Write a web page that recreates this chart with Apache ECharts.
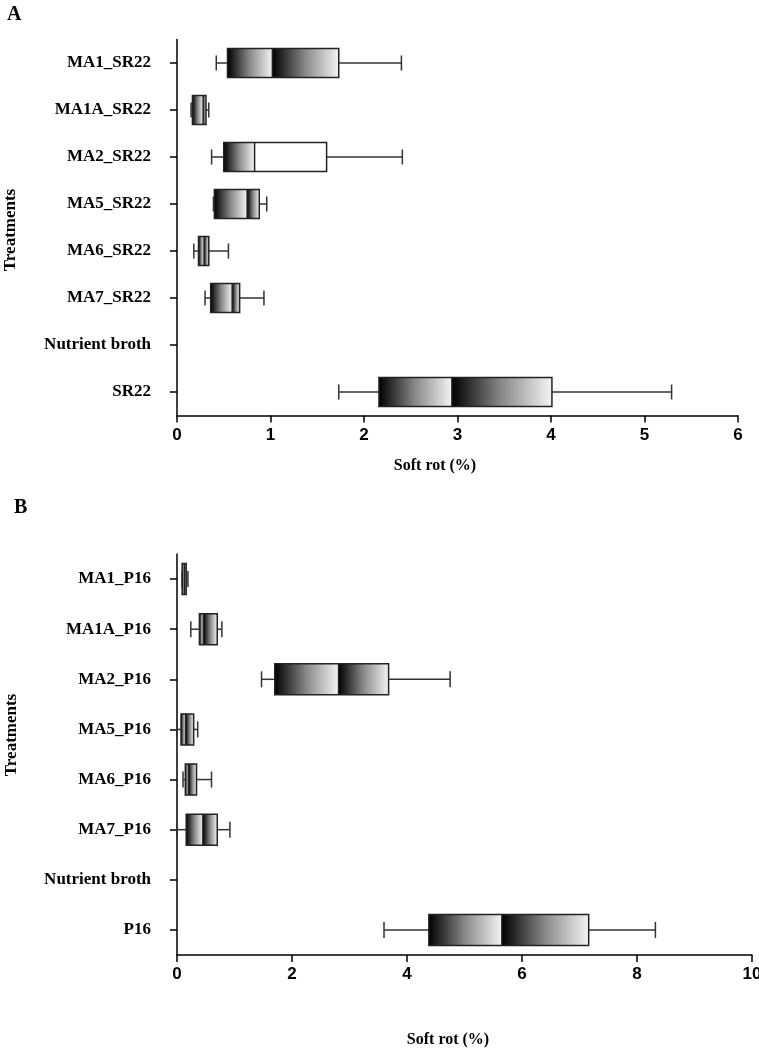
<!DOCTYPE html>
<html>
<head>
<meta charset="utf-8">
<script src="https://cdn.jsdelivr.net/npm/echarts@6/dist/echarts.min.js"></script>
<style>
html,body{margin:0;padding:0;background:#fff;}
#chart{width:759px;height:1050px;}
</style>
</head>
<body>
<div id="chart"></div>
<script>
// ---- Panel A data ----
const categoriesA = ['MA1_SR22','MA1A_SR22','MA2_SR22','MA5_SR22','MA6_SR22','MA7_SR22','Nutrient broth','SR22'];
const lowA  = [0.42, 0.15, 0.37, 0.39, 0.18, 0.30, null, 1.73];
const q1A   = [0.54, 0.165,0.50, 0.40, 0.23, 0.36, null, 2.16];
const medA  = [1.02, 0.28, 0.83, 0.75, 0.29, 0.59, null, 2.94];
const q3A   = [1.73, 0.31, 1.60, 0.88, 0.34, 0.67, null, 4.01];
const highA = [2.40, 0.34, 2.41, 0.96, 0.55, 0.93, null, 5.29];
const ticksA = [0,1,2,3,4,5,6];

// ---- Panel B data ----
const categoriesB = ['MA1_P16','MA1A_P16','MA2_P16','MA5_P16','MA6_P16','MA7_P16','Nutrient broth','P16'];
const lowB  = [0.09, 0.24, 1.47, 0.00, 0.105,0.00, null, 3.60];
const q1B   = [0.09, 0.39, 1.70, 0.07, 0.145,0.16, null, 4.38];
const medB  = [0.13, 0.46, 2.81, 0.15, 0.20, 0.45, null, 5.65];
const q3B   = [0.16, 0.70, 3.68, 0.29, 0.34, 0.70, null, 7.16];
const highB = [0.19, 0.78, 4.75, 0.36, 0.60, 0.92, null, 8.32];
const ticksB = [0,2,4,6,8,10];

// categories whose upper half box is drawn plain white
const plainUpper = ['MA2_SR22'];

function buildData(cats, lo, q1, md, q3, hi){
  const out = [];
  cats.forEach((c,i)=>{
    if (lo[i] === null) return;
    out.push([i, lo[i], q1[i], md[i], q3[i], hi[i], plainUpper.indexOf(c) >= 0 ? 1 : 0]);
  });
  return out;
}

function grad(){
  return new echarts.graphic.LinearGradient(0,0,1,0,[
    {offset:0,color:'#000000'},
    {offset:0.5,color:'#8a8a8a'},
    {offset:1,color:'#f4f4f4'}
  ]);
}

function renderBox(params, api){
  const cat = api.value(0);
  const vals = [api.value(1),api.value(2),api.value(3),api.value(4),api.value(5)];
  const plain = api.value(6) === 1;
  const yc = api.coord([0, cat])[1];
  const band = api.size([0,1])[1];
  const h = band*0.62;
  const cap = band*0.32;
  const xs = vals.map(v=>api.coord([v,cat])[0]);
  const lineStyle = {stroke:'#333', lineWidth:1.5, fill:null};
  const top = yc - h/2;
  const ch = [];
  ch.push({type:'line',shape:{x1:xs[0],y1:yc,x2:xs[1],y2:yc},style:lineStyle});
  ch.push({type:'line',shape:{x1:xs[3],y1:yc,x2:xs[4],y2:yc},style:lineStyle});
  ch.push({type:'line',shape:{x1:xs[0],y1:yc-cap/2,x2:xs[0],y2:yc+cap/2},style:lineStyle});
  ch.push({type:'line',shape:{x1:xs[4],y1:yc-cap/2,x2:xs[4],y2:yc+cap/2},style:lineStyle});
  ch.push({type:'rect',shape:{x:xs[1],y:top,width:Math.max(xs[2]-xs[1],0.5),height:h},style:{fill:grad()}});
  ch.push({type:'rect',shape:{x:xs[2],y:top,width:Math.max(xs[3]-xs[2],0.5),height:h},style:{fill:plain?'#ffffff':grad()}});
  ch.push({type:'rect',shape:{x:xs[1],y:top,width:Math.max(xs[3]-xs[1],0.5),height:h},style:{fill:null,stroke:'#222',lineWidth:1.5}});
  ch.push({type:'line',shape:{x1:xs[2],y1:top,x2:xs[2],y2:top+h},style:{stroke:'#222',lineWidth:1.5}});
  return {type:'group',children:ch};
}

const serif = 'Liberation Serif';
const sans = 'Liberation Sans';

function xAxisCfg(idx, ticks){
  return {
    type:'value', gridIndex:idx, min:ticks[0], max:ticks[ticks.length-1], interval:ticks[1]-ticks[0],
    splitLine:{show:false},
    axisLine:{show:true,lineStyle:{color:'#000',width:1.5}},
    axisTick:{show:true,length:7,lineStyle:{color:'#000',width:1.5}},
    axisLabel:{color:'#000',fontFamily:sans,fontWeight:'bold',fontSize:17,margin:11}
  };
}
function yAxisCfg(idx, cats){
  return {
    type:'category', gridIndex:idx, data:cats, inverse:true,
    axisLine:{show:true,lineStyle:{color:'#000',width:1.5}},
    axisTick:{show:true,alignWithLabel:true,length:7,lineStyle:{color:'#000',width:1.5}},
    axisLabel:{color:'#000',fontFamily:serif,fontWeight:'bold',fontSize:17,margin:26},
    splitLine:{show:false}
  };
}

const chart = echarts.init(document.getElementById('chart'), null, {renderer:'canvas'});
chart.setOption({
  backgroundColor:'#fff',
  animation:false,
  grid:[
    {left:177, right:21, top:39.5, height:376, outerBoundsMode:'none', containLabel:false},
    {left:177, right:7, top:554, height:401, outerBoundsMode:'none', containLabel:false}
  ],
  xAxis:[xAxisCfg(0,ticksA), xAxisCfg(1,ticksB)],
  yAxis:[yAxisCfg(0,categoriesA), yAxisCfg(1,categoriesB)],
  series:[
    {type:'custom', xAxisIndex:0, yAxisIndex:0, renderItem:renderBox,
     encode:{x:[1,2,3,4,5], y:0}, data:buildData(categoriesA,lowA,q1A,medA,q3A,highA)},
    {type:'custom', xAxisIndex:1, yAxisIndex:1, renderItem:renderBox,
     encode:{x:[1,2,3,4,5], y:0}, data:buildData(categoriesB,lowB,q1B,medB,q3B,highB)}
  ],
  graphic:[
    {type:'text', left:7, top:5, style:{text:'A', font:'bold 20px "Liberation Serif"', fill:'#000'}},
    {type:'text', left:14, top:498, style:{text:'B', font:'bold 20px "Liberation Serif"', fill:'#000'}},
    {type:'text', x:11, y:230, rotation:Math.PI/2, style:{text:'Treatments', font:'bold 17px "Liberation Serif"', fill:'#000', align:'center', verticalAlign:'middle'}},
    {type:'text', x:12, y:735, rotation:Math.PI/2, style:{text:'Treatments', font:'bold 17px "Liberation Serif"', fill:'#000', align:'center', verticalAlign:'middle'}},
    {type:'text', x:435, y:466, style:{text:'Soft rot (%)', font:'bold 16px "Liberation Serif"', fill:'#000', align:'center', verticalAlign:'middle'}},
    {type:'text', x:448, y:1040, style:{text:'Soft rot (%)', font:'bold 16px "Liberation Serif"', fill:'#000', align:'center', verticalAlign:'middle'}}
  ]
});
</script>
</body>
</html>
